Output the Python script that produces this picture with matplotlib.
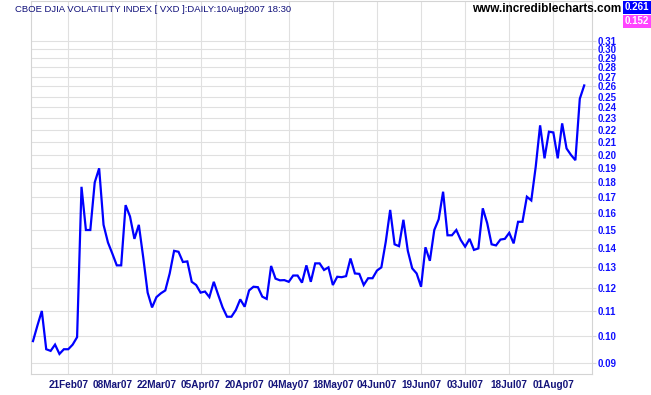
import matplotlib
matplotlib.use("Agg")
import matplotlib.pyplot as plt
from matplotlib.ticker import FixedLocator, NullLocator, FixedFormatter

# daily close of the CBOE DJIA volatility index (VXD), Feb-Aug 2007
vxd = [0.098, 0.104, 0.110, 0.095, 0.0944, 0.0967, 0.0933, 0.095, 0.095, 0.0967,
       0.0995, 0.177, 0.150, 0.150, 0.180, 0.190, 0.153, 0.143, 0.137, 0.131,
       0.131, 0.165, 0.158, 0.145, 0.153, 0.135, 0.118, 0.1115, 0.116, 0.1177,
       0.119, 0.127, 0.1385, 0.138, 0.1327, 0.133, 0.123, 0.1215, 0.118, 0.1185,
       0.116, 0.123, 0.117, 0.1115, 0.1076, 0.1076, 0.1104, 0.115, 0.1118, 0.119,
       0.1207, 0.1205, 0.1162, 0.1152, 0.1307, 0.1245, 0.1237, 0.1238, 0.123, 0.126,
       0.126, 0.1226, 0.131, 0.123, 0.132, 0.132, 0.1287, 0.130, 0.1215, 0.1254,
       0.1252, 0.1257, 0.1345, 0.127, 0.1268, 0.1215, 0.1247, 0.1247, 0.1284, 0.130,
       0.1434, 0.162, 0.142, 0.141, 0.156, 0.1385, 0.1295, 0.127, 0.1207, 0.1404,
       0.1333, 0.150, 0.1563, 0.1737, 0.147, 0.147, 0.150, 0.1444, 0.1407, 0.145,
       0.139, 0.1398, 0.163, 0.154, 0.142, 0.1414, 0.1446, 0.145, 0.1484, 0.1425,
       0.1548, 0.1548, 0.1704, 0.168, 0.191, 0.224, 0.1974, 0.2186, 0.218, 0.1974,
       0.2257, 0.205, 0.200, 0.196, 0.248, 0.261]

date_labels = ["21Feb07", "08Mar07", "22Mar07", "05Apr07", "20Apr07", "04May07",
               "18May07", "04Jun07", "19Jun07", "03Jul07", "18Jul07", "01Aug07"]
first_label_bar = 8   # 21Feb07 is the 9th bar, then one label every 10 bars

y_ticks = [0.09, 0.10, 0.11, 0.12, 0.13, 0.14, 0.15, 0.16, 0.17, 0.18, 0.19, 0.20,
           0.21, 0.22, 0.23, 0.24, 0.25, 0.26, 0.27, 0.28, 0.29, 0.30, 0.31]

last_value = 0.261
other_value = 0.152

plt.rcParams['font.family'] = ['Liberation Sans', 'DejaVu Sans']

W, H = 651, 395
fig = plt.figure(figsize=(W / 100, H / 100), dpi=100)
fig.patch.set_facecolor('white')

# plot area in pixels: x 30.7..591.7, y 1..374.3 (from top)
ax = fig.add_axes([30.7 / W, (H - 374.3) / H, (591.7 - 30.7) / W, (374.3 - 1) / H])

x = list(range(len(vxd)))
ax.plot(x, vxd, color='#0000ff', lw=1.6, solid_joinstyle='miter', zorder=3)

ax.set_yscale('log')
ax.set_ylim(0.0863, 0.3607)
ax.set_xlim(-0.52, 126.7)

ax.yaxis.set_major_locator(FixedLocator(y_ticks))
ax.yaxis.set_major_formatter(FixedFormatter(['%.2f' % v for v in y_ticks]))
ax.yaxis.set_minor_locator(NullLocator())
ax.yaxis.tick_right()
ax.tick_params(axis='y', which='major', length=3, width=0.8, color='#d8d8d8',
               pad=1, labelsize=7, labelcolor='#1010ff')
for lab in ax.get_yticklabels():
    lab.set_fontweight('bold')

xticks = [first_label_bar + 10 * k for k in range(len(date_labels))]
ax.set_xticks(xticks)
ax.set_xticklabels(date_labels)
ax.tick_params(axis='x', length=0, pad=4, labelsize=7.2, labelcolor='#14147a')
for lab in ax.get_xticklabels():
    lab.set_fontweight('bold')

ax.grid(True, color='#e0e0e0', lw=0.8, zorder=0)
for s in ax.spines.values():
    s.set_color('#d4d4d4')
    s.set_linewidth(0.8)

fig.text(15 / W, 1 - 9 / H, 'CBOE DJIA VOLATILITY INDEX [ VXD ]:DAILY:10Aug2007 18:30',
         fontsize=6.8, color='#10107a', va='center', ha='left')
fig.text(621 / W, 1 - 9.5 / H, 'www.incrediblecharts.com', fontsize=8.5,
         fontweight='bold', color='black', va='center', ha='right')

fig.text(637 / W, 1 - 7.5 / H, '%.3f' % last_value, fontsize=7, fontweight='bold',
         color='white', va='center', ha='center',
         bbox=dict(boxstyle='square,pad=0.15', fc='#0000ff', ec='none'))
fig.text(637 / W, 1 - 21.5 / H, '%.3f' % other_value, fontsize=7, fontweight='bold',
         color='white', va='center', ha='center',
         bbox=dict(boxstyle='square,pad=0.15', fc='#ff44ff', ec='none'))

fig.savefig('out.png', dpi=100)
